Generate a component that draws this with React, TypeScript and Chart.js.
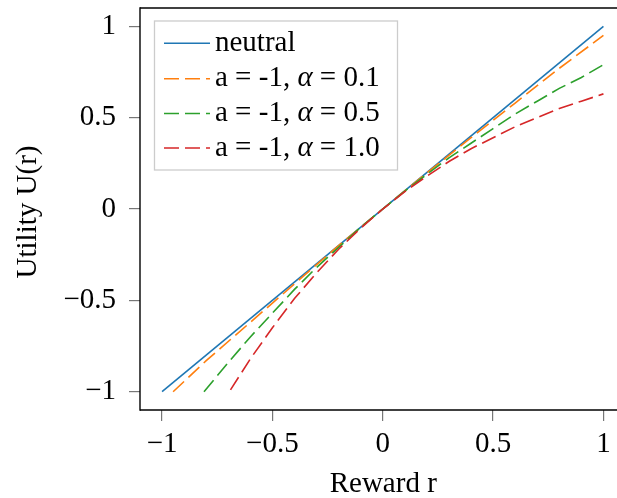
import React, { useEffect, useRef } from "react";
import { Chart, registerables } from "chart.js";

Chart.register(...registerables);

const neutralX = [-1, 1];
const neutralY = [-1, 1];

const a01X = [-0.95, -0.8, -0.6, -0.4, -0.2, 0, 0.2, 0.4, 0.6, 0.8, 1.0];
const a01Y = [-1.0, -0.83, -0.62, -0.41, -0.2, 0, 0.198, 0.39, 0.58, 0.77, 0.95];

const a05X = [-0.81, -0.7, -0.6, -0.5, -0.4, -0.3, -0.2, -0.1, 0, 0.1, 0.2, 0.3, 0.4, 0.5, 0.6, 0.7, 0.8, 0.9, 1.0];
const a05Y = [-1.0, -0.84, -0.7, -0.57, -0.44, -0.32, -0.21, -0.1, 0, 0.098, 0.19, 0.28, 0.36, 0.44, 0.52, 0.59, 0.66, 0.72, 0.79];

const a10X = [-0.69, -0.6, -0.5, -0.4, -0.3, -0.2, -0.1, 0, 0.1, 0.2, 0.3, 0.4, 0.5, 0.6, 0.7, 0.8, 0.9, 1.0];
const a10Y = [-0.99, -0.82, -0.65, -0.49, -0.35, -0.22, -0.105, 0, 0.095, 0.18, 0.26, 0.33, 0.39, 0.45, 0.5, 0.55, 0.59, 0.63];

const xTicks = [-1, -0.5, 0, 0.5, 1];
const yTicks = [-1, -0.5, 0, 0.5, 1];

const seriesNames = ["neutral", "a = -1, ", "a = -1, ", "a = -1, "];
const alphaValues = ["", "0.1", "0.5", "1.0"];
const colors = ["#1f77b4", "#ff7f0e", "#2ca02c", "#d62728"];

const xTitle = "Reward r";
const yTitle = "Utility U(r)";

const FONT = "'Liberation Serif', 'Times New Roman', serif";
const FS = 29;

const fmt = (v: number) => (v < 0 ? "\u2212" + String(Math.abs(v)) : String(v));
const pts = (xs: number[], ys: number[]) => xs.map((x, i) => ({ x, y: ys[i] }));

export default function App() {
  const ref = useRef<HTMLCanvasElement | null>(null);
  useEffect(() => {
    if (!ref.current) return;
    const dash = [15, 6];
    const overlay = {
      id: "overlay",
      afterDatasetsDraw(chart: any) {
        const ctx = chart.ctx as CanvasRenderingContext2D;
        const ca = chart.chartArea;
        const xs = chart.scales.x;
        const ys = chart.scales.y;
        ctx.save();
        ctx.setLineDash([]);
        // frame: left, top and bottom edges (right edge lies beyond the page)
        ctx.strokeStyle = "#000";
        ctx.lineWidth = 1.4;
        ctx.beginPath();
        ctx.moveTo(ca.left, ca.top);
        ctx.lineTo(chart.width, ca.top);
        ctx.stroke();
        ctx.beginPath();
        ctx.moveTo(ca.left, ca.bottom);
        ctx.lineTo(chart.width, ca.bottom);
        ctx.stroke();
        ctx.beginPath();
        ctx.moveTo(ca.left, ca.top - 0.7);
        ctx.lineTo(ca.left, ca.bottom + 0.7);
        ctx.stroke();
        // tick labels
        ctx.fillStyle = "#000";
        ctx.font = `${FS}px ${FONT}`;
        ctx.textBaseline = "middle";
        ctx.textAlign = "right";
        yTicks.forEach((v) => ctx.fillText(fmt(v), 116, ys.getPixelForValue(v)));
        ctx.textAlign = "center";
        xTicks.forEach((v) => ctx.fillText(fmt(v), xs.getPixelForValue(v), 444));
        // legend
        const lx = 154.5, ly = 21, lw = 243, lh = 149;
        ctx.fillStyle = "rgba(255,255,255,0.85)";
        ctx.fillRect(lx, ly, lw, lh);
        ctx.strokeStyle = "#cccccc";
        ctx.lineWidth = 1.3;
        ctx.strokeRect(lx, ly, lw, lh);
        const rows = [43.3, 78.7, 113.5, 148];
        rows.forEach((ry, i) => {
          ctx.strokeStyle = colors[i];
          ctx.lineWidth = 1.6;
          ctx.setLineDash(i === 0 ? [] : dash);
          ctx.beginPath();
          ctx.moveTo(164, ry);
          ctx.lineTo(210, ry);
          ctx.stroke();
          ctx.setLineDash([]);
          ctx.fillStyle = "#000";
          ctx.textBaseline = "middle";
          ctx.textAlign = "left";
          let tx = 215;
          ctx.font = `${FS}px ${FONT}`;
          ctx.fillText(seriesNames[i], tx, ry);
          if (alphaValues[i]) {
            tx += ctx.measureText(seriesNames[i]).width;
            ctx.font = `italic ${FS}px ${FONT}`;
            ctx.fillText("\u03b1", tx, ry);
            tx += ctx.measureText("\u03b1").width;
            ctx.font = `${FS}px ${FONT}`;
            ctx.fillText(" = " + alphaValues[i], tx, ry);
          }
        });
        // titles
        ctx.fillStyle = "#000";
        ctx.font = `${FS}px ${FONT}`;
        ctx.textAlign = "center";
        ctx.textBaseline = "middle";
        ctx.fillText(xTitle, (ca.left + ca.right) / 2 + 0.5, 484);
        ctx.translate(28, 212);
        ctx.rotate(-Math.PI / 2);
        ctx.fillText(yTitle, 0, 0);
        ctx.restore();
      },
    };
    const mk = (xs: number[], ys: number[], i: number, order: number) => ({
      data: pts(xs, ys),
      borderColor: colors[i],
      backgroundColor: colors[i],
      borderWidth: 1.6,
      borderDash: i === 0 ? [] : dash,
      pointRadius: 0,
      tension: 0,
      fill: false,
      order,
    });
    const chart = new Chart(ref.current, {
      type: "line",
      data: {
        datasets: [
          mk(neutralX, neutralY, 0, 4),
          mk(a01X, a01Y, 1, 3),
          mk(a05X, a05Y, 2, 2),
          mk(a10X, a10Y, 3, 1),
        ] as any,
      },
      options: {
        animation: false,
        responsive: false,
        devicePixelRatio: 1,
        layout: { padding: { top: 8, right: 14.5, left: 0, bottom: 0 } },
        plugins: { legend: { display: false }, tooltip: { enabled: false } },
        scales: {
          x: {
            type: "linear",
            min: -1.1,
            max: 1.1,
            border: { display: false },
            grid: { drawOnChartArea: false, drawTicks: true, tickLength: 11, color: "#777", lineWidth: 1.2 },
            afterBuildTicks: (s: any) => { s.ticks = xTicks.map((v) => ({ value: v })); },
            afterFit: (s: any) => { s.height = 88; },
            ticks: { display: false },
          },
          y: {
            type: "linear",
            min: -1.1,
            max: 1.1,
            border: { display: false },
            grid: { drawOnChartArea: false, drawTicks: true, tickLength: 11, color: "#777", lineWidth: 1.2 },
            afterBuildTicks: (s: any) => { s.ticks = yTicks.map((v) => ({ value: v })); },
            afterFit: (s: any) => { s.width = 140; },
            ticks: { display: false },
          },
        },
      },
      plugins: [overlay],
    });
    return () => chart.destroy();
  }, []);
  return (
    <div style={{ position: "fixed", left: 0, top: 0, width: 617, height: 498, overflow: "hidden", background: "#fff" }}>
      <canvas ref={ref} width={640} height={498} style={{ width: 640, height: 498, display: "block" }} />
    </div>
  );
}
